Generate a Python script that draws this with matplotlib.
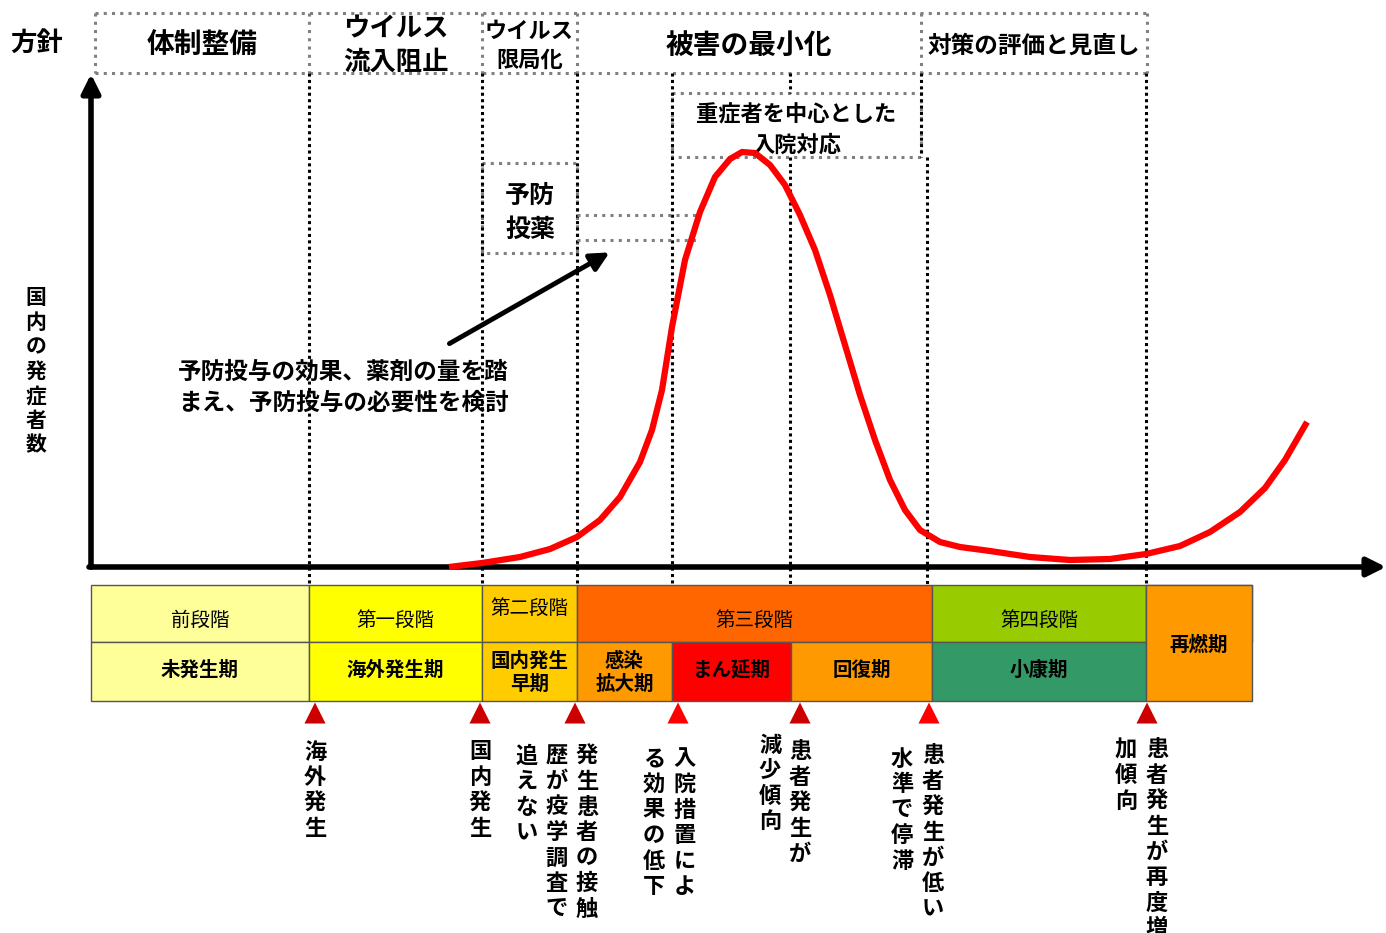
import numpy as np
import matplotlib.pyplot as plt
from matplotlib.patches import Rectangle

plt.rcParams['font.family'] = ['Noto Sans CJK JP', 'DejaVu Sans']

# Canvas is laid out in pixel units of the original diagram (y grows downward)
W, H = 1386, 933
axis_y = 567  # baseline of the case-count axis

# Red epidemic curve: x position and height above baseline
curve_x = [449, 482, 520, 550, 577, 600, 620, 640, 652, 662, 672, 685, 700, 715, 730, 742,
           755, 770, 785, 800, 815, 830, 845, 860, 875, 890, 905, 920, 940, 960, 990,
           1030, 1070, 1110, 1146, 1180, 1210, 1240, 1265, 1285, 1307]
curve_h = [0, 4, 10, 18, 30, 47, 70, 105, 137, 177, 240, 307, 355, 390, 408, 415,
           414, 402, 382, 352, 317, 272, 222, 172, 127, 87, 57, 37, 25, 20, 16,
           10, 7, 8, 13, 21, 35, 55, 79, 107, 145]

# Policy header
policy_edges = [95, 309, 482, 577, 921, 1147]
policy_labels = ['体制整備', 'ウイルス\n流入阻止', 'ウイルス\n限局化', '被害の最小化', '対策の評価と見直し']
policy_sizes = [20, 19, 16, 20, 17]

# Stage band (top row / bottom row)
stage_edges = [91, 309, 482, 577, 932, 1146, 1252]
stage_labels = ['前段階', '第一段階', '第二段階', '第三段階', '第四段階', '']
stage_colors = ['#FFFF99', '#FFFF00', '#FFCC00', '#FF6600', '#99CC00', '#FF9900']
period_edges = [91, 309, 482, 577, 672, 791, 932, 1146, 1252]
period_labels = ['未発生期', '海外発生期', '国内発生\n早期', '感染\n拡大期', 'まん延期', '回復期', '小康期', '再燃期']
period_colors = ['#FFFF99', '#FFFF00', '#FFCC00', '#FF9900', '#FF0000', '#FF9900', '#339966', '#FF9900']

# Event markers and vertical captions (columns listed right to left)
event_x = [315, 480, 575, 678, 800, 929, 1147]
event_colors = ['#CC0000', '#CC0000', '#CC0000', '#FF0000', '#CC0000', '#FF0000', '#CC0000']
event_text = [
    ['海外発生'],
    ['国内発生'],
    ['発生患者の接触', '歴が疫学調査で', '追えない'],
    ['入院措置によ', 'る効果の低下'],
    ['患者発生が', '減少傾向'],
    ['患者発生が低い', '水準で停滞'],
    ['患者発生が再度増', '加傾向'],
]
event_col_x = [[315], [480], [587, 557, 527], [685, 654], [800, 770], [933, 902], [1157, 1126]]
event_col_y = [[752], [752], [756, 756, 756], [759, 759], [752, 745], [756, 759], [750, 750]]

fig = plt.figure(figsize=(W / 100, H / 100), dpi=100)
ax = fig.add_axes([0, 0, 1, 1])
ax.set_xlim(0, W)
ax.set_ylim(H, 0)
ax.axis('off')

gray_dot = dict(color='#808080', lw=2.2, linestyle=(0, (1, 1.7)))
black_dot = dict(color='black', lw=2.2, linestyle=(0, (1, 1.1)))

# header box
top, bot = 13, 73
ax.plot([policy_edges[0], policy_edges[-1]], [top, top], **gray_dot)
ax.plot([policy_edges[0], policy_edges[-1]], [bot, bot], **gray_dot)
for x in policy_edges:
    ax.plot([x, x], [top, bot], **gray_dot)
for i, lab in enumerate(policy_labels):
    cx = (policy_edges[i] + policy_edges[i + 1]) / 2
    ax.text(cx, 46, lab, ha='center', va='center', fontsize=policy_sizes[i],
            fontweight='bold', linespacing=1.3)
ax.text(37, 44, '方針', ha='center', va='center', fontsize=19, fontweight='bold')

# vertical dotted guides
band_top = 585
for x in [309, 482, 577, 672, 1146]:
    ax.plot([x, x], [bot, band_top], **black_dot)
ax.plot([790, 790], [bot, 93], **black_dot)
ax.plot([790, 790], [157, band_top], **black_dot)
ax.plot([921, 921], [bot, 157], **black_dot)
ax.plot([927, 927], [157, band_top], **black_dot)

# severe-case box
ax.add_patch(Rectangle((672, 93), 249, 64, fill=False, edgecolor='#808080', lw=2.2, linestyle=(0, (1, 1.7))))
ax.text(796, 115, '重症者を中心とした', ha='center', va='center', fontsize=16, fontweight='bold')
ax.text(797, 145, '入院対応', ha='center', va='center', fontsize=16, fontweight='bold')

# prophylaxis box
ax.add_patch(Rectangle((482, 163), 95, 90, fill=False, edgecolor='#808080', lw=2.2, linestyle=(0, (1, 1.7))))
ax.text(530, 196, '予防', ha='center', va='center', fontsize=18, fontweight='bold')
ax.text(530, 230, '投薬', ha='center', va='center', fontsize=18, fontweight='bold')
ax.plot([577, 700], [215, 215], **gray_dot)
ax.plot([577, 700], [240, 240], **gray_dot)

ax.annotate('', xy=(612, 251), xytext=(447, 345),
            arrowprops=dict(arrowstyle='-|>', color='black', lw=3.5, mutation_scale=28))
ax.text(178, 372, '予防投与の効果、薬剤の量を踏', ha='left', va='center', fontsize=17, fontweight='bold')
ax.text(178, 403, 'まえ、予防投与の必要性を検討', ha='left', va='center', fontsize=17, fontweight='bold')

# axes arrows
ax.annotate('', xy=(91, 74), xytext=(91, axis_y),
            arrowprops=dict(arrowstyle='-|>', color='black', lw=4, mutation_scale=28, shrinkA=0, shrinkB=0))
ax.annotate('', xy=(1386, axis_y), xytext=(89, axis_y),
            arrowprops=dict(arrowstyle='-|>', color='black', lw=4, mutation_scale=28, shrinkA=0, shrinkB=0))
for i, ch in enumerate('国内の発症者数'):
    ax.text(36, 298 + i * 24.5, ch, ha='center', va='center', fontsize=15, fontweight='bold')

# red curve
ax.plot(curve_x, [axis_y - h for h in curve_h], color='#FF0000', lw=4.5,
        solid_capstyle='butt', solid_joinstyle='round', zorder=5)

# stage bands
mid = 642
band_bot = 701
for i in range(len(stage_labels)):
    x0, x1 = stage_edges[i], stage_edges[i + 1]
    ax.add_patch(Rectangle((x0, band_top), x1 - x0, mid - band_top, facecolor=stage_colors[i],
                           edgecolor='#555555', lw=1))
    ty = 608 if stage_labels[i] == '第二段階' else 620
    ax.text((x0 + x1) / 2, ty, stage_labels[i], ha='center', va='center', fontsize=14)
for i, lab in enumerate(period_labels):
    x0, x1 = period_edges[i], period_edges[i + 1]
    y0 = band_top if lab == '再燃期' else mid
    ax.add_patch(Rectangle((x0, y0), x1 - x0, band_bot - y0, facecolor=period_colors[i],
                           edgecolor='#555555', lw=1))
    if lab == '再燃期':
        ty = 645
    elif '\n' in lab:
        ty = 673
    else:
        ty = 670
    ax.text((x0 + x1) / 2, ty, lab, ha='center', va='center', fontsize=14,
            fontweight='bold', linespacing=1.3)

# event triangles and vertical captions
ax.scatter(event_x, [713] * len(event_x), marker='^', s=230, c=event_colors, linewidths=0, zorder=6)
for cols, xs, ys in zip(event_text, event_col_x, event_col_y):
    for col, cx, cy in zip(cols, xs, ys):
        for j, ch in enumerate(col):
            ax.text(cx, cy + j * 25.5, ch, ha='center', va='center', fontsize=16, fontweight='bold')

fig.savefig('out.png', dpi=100)
